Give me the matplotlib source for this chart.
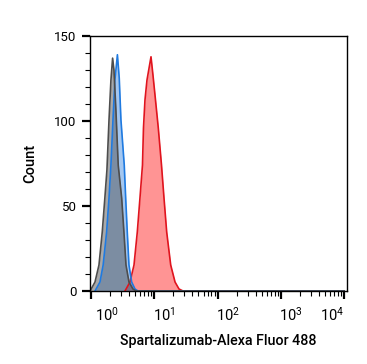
import matplotlib
matplotlib.use("Agg")
import matplotlib.pyplot as plt
import matplotlib.transforms as mtransforms
from matplotlib.ticker import LogLocator, MultipleLocator, NullFormatter

plt.rcParams["font.family"] = ["Roboto", "DejaVu Sans"]
plt.rcParams["mathtext.default"] = "regular"

# isotype control (grey)
grey_x = [0.97, 1.16, 1.34, 1.51, 1.66, 1.79, 1.93, 2.07, 2.20, 2.31, 2.48,
          2.70, 3.06, 3.32, 3.58, 3.99, 4.61, 5.15, 10000]
grey_y = [0, 5.3, 15.3, 34.7, 54.7, 71.2, 100.6, 124, 137, 130, 106.5,
          74, 54.7, 34.7, 15.3, 5.3, 1.2, 0, 0]

# negative control (blue)
blue_x = [1.16, 1.39, 1.56, 1.77, 1.93, 2.07, 2.23, 2.39, 2.62, 2.80, 2.98,
          3.36, 3.54, 3.75, 3.99, 4.40, 4.96, 5.53, 10000]
blue_y = [0, 5.3, 15.3, 34.7, 54.7, 74.1, 100.6, 124, 139, 125.3, 100.6,
          74.1, 54.7, 34.7, 15.3, 5.3, 1.2, 0, 0]

# Spartalizumab stained (red)
red_x = [3.45, 4.14, 4.79, 5.40, 5.95, 6.52, 6.76, 7.14, 7.68, 8.89, 9.55,
         10.28, 11.59, 13.02, 14.26, 15.73, 18.2, 21.3, 24.6, 28.5, 10000]
red_y = [0, 5.3, 15.3, 34.7, 54.7, 74.1, 95.9, 112.4, 124.1, 137.8, 127,
         115.3, 95.9, 74.1, 54.7, 34.7, 15.3, 5.3, 1.2, 0, 0]

x_ticks = [1, 10, 100, 1000, 10000]
x_tick_labels = ["$10^{0}$", "$10^{1}$", "$10^{2}$", "$10^{3}$", "$10^{4}$"]

fig = plt.figure(figsize=(3.67, 3.64), dpi=100)
ax = fig.add_axes([0.245, 0.2005, 0.701, 0.7005])

ax.fill_between(red_x, red_y, color="#ff4d4d", alpha=0.6, lw=0)
ax.plot(red_x, red_y, color="#e0141e", lw=1.2)
ax.fill_between(blue_x, blue_y, color="#4a90e2", alpha=0.5, lw=0)
ax.plot(blue_x, blue_y, color="#1f7ae0", lw=1.2)
ax.fill_between(grey_x, grey_y, color="#555555", alpha=0.5, lw=0)
ax.plot(grey_x, grey_y, color="#4d4d4d", lw=1.2)

ax.set_xscale("log")
ax.set_xlim(0.964, 11150)
ax.set_ylim(0, 150)

ax.set_xticks(x_ticks)
ax.set_xticklabels(x_tick_labels)
ax.xaxis.set_minor_locator(LogLocator(base=10, subs=range(2, 10), numticks=50))
ax.xaxis.set_minor_formatter(NullFormatter())
ax.yaxis.set_major_locator(MultipleLocator(50))
ax.yaxis.set_minor_locator(MultipleLocator(10))

ax.tick_params(which="major", length=6, width=1.6, color="black")
ax.tick_params(which="minor", length=3.5, width=0.8)
ax.tick_params(axis="y", labelsize=9.5)
ax.tick_params(axis="x", which="major", labelsize=10.5, pad=5)

# labels in the original sit to the right of their tick, last one to the left
labels = ax.get_xticklabels()
for i, lab in enumerate(labels):
    if i == len(labels) - 1:
        lab.set_ha("right")
        shift = 0.0
    else:
        lab.set_ha("left")
        shift = 0.04 if i == 0 else -0.015
    lab.set_transform(lab.get_transform()
                      + mtransforms.ScaledTranslation(shift, 0, fig.dpi_scale_trans))

for s in ax.spines.values():
    s.set_linewidth(1.0)

ax.set_xlabel("Spartalizumab-Alexa Fluor 488", fontsize=10.3, fontweight="medium", labelpad=7)
ax.set_ylabel("Count", fontsize=10.5, fontweight="medium", labelpad=12)

fig.savefig("out.png", dpi=100)
